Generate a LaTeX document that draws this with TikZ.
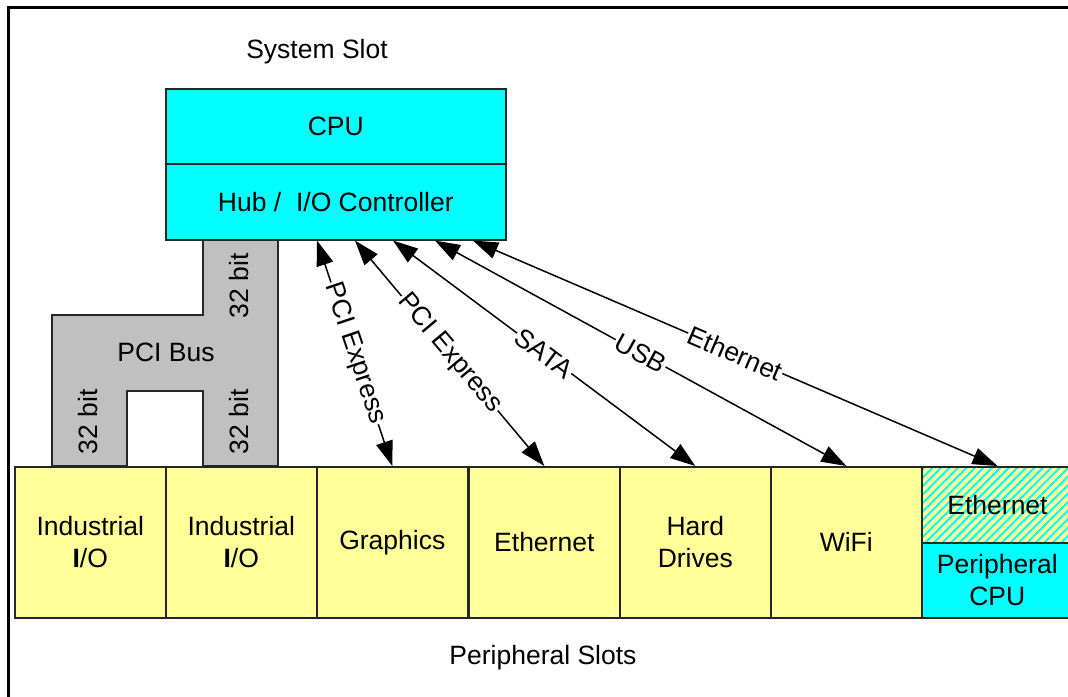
\documentclass[tikz,border=0pt]{standalone}
\usepackage{fontspec}
\setmainfont{Liberation Sans}
\usetikzlibrary{arrows.meta,patterns.meta,calc}
\definecolor{cy}{HTML}{00FFFF}
\definecolor{yl}{HTML}{FFFF99}
\definecolor{gr}{HTML}{C0C0C0}
\begin{document}
\begin{tikzpicture}[x=1pt,y=-1pt,
  lbl/.style={font=\fontsize{26.5}{32}\selectfont},
  bord/.style={draw=black!85, line width=1.6pt},
  slotbox/.style={bord, fill=yl, minimum width=151pt, minimum height=151pt,
    align=center, inner sep=0pt, lbl, anchor=north west},
  cpubox/.style={bord, fill=cy, minimum width=340pt, inner sep=0pt, lbl, anchor=north west},
  arr/.style={{Triangle[length=25pt,width=17pt]}-{Triangle[length=25pt,width=17pt]}, line width=1.5pt},
  tag/.style={lbl, midway, sloped, fill=white, inner sep=1pt}
]
\useasboundingbox (0,0) rectangle (1068,696);
\fill[white] (0,0) rectangle (1068,696);
% outer frame
\draw[line width=3pt] (8,710) -- (8,7.5) -- (1080,7.5);

\node[lbl] (sys) at (317,52) {System Slot};
\node[lbl] (per) at (543,658) {Peripheral Slots};

% PCI bus
\draw[bord, fill=gr] (203,239) -- (278,239) -- (278,466) -- (203,466) -- (203,391)
  -- (127,391) -- (127,466) -- (52,466) -- (52,315) -- (203,315) -- cycle;
\node[lbl] (pcibus) at (166,352) {PCI Bus};
\node[lbl, rotate=90] (b1) at (239,286) {32 bit};
\node[lbl, rotate=90] (b2) at (88,422) {32 bit};
\node[lbl, rotate=90] (b3) at (239,422) {32 bit};

% CPU
\node[cpubox, minimum height=75pt] (cpu) at (165,88) {CPU};
\node[cpubox, minimum height=76pt] (hub) at (165,163) {Hub /~~I/O Controller};

% peripheral slots
\node[slotbox] (io1) at (14,466) {Industrial\\\textbf{I}/O};
\node[slotbox] (io2) at (165,466) {Industrial\\\textbf{I}/O};
\node[slotbox] (gfx) at (316,466) {Graphics};
\node[slotbox] (eth) at (468,466) {Ethernet};
\node[slotbox] (hdd) at (619,466) {Hard\\Drives};
\node[slotbox] (wifi) at (770,466) {WiFi};
\node[slotbox, minimum height=76pt, preaction={fill=yl},
  pattern={Lines[angle=45,distance=6pt,line width=2pt]}, pattern color=cy] (peth) at (921,466) {Ethernet};
\node[slotbox, fill=cy, minimum height=75pt] (pcpu) at (921,542) {Peripheral\\CPU};

% connectors
\draw[arr] ([xshift=152pt]hub.south west) -- (gfx.north) node[tag] {PCI Express};
\draw[arr] ([xshift=190pt]hub.south west) -- (eth.north) node[tag] {PCI Express};
\draw[arr] ([xshift=228pt]hub.south west) -- (hdd.north) node[tag] {SATA};
\draw[arr] ([xshift=270pt]hub.south west) -- (wifi.north) node[tag] {USB};
\draw[arr] ([xshift=308pt]hub.south west) -- (peth.north) node[tag] {Ethernet};
\end{tikzpicture}
\end{document}
